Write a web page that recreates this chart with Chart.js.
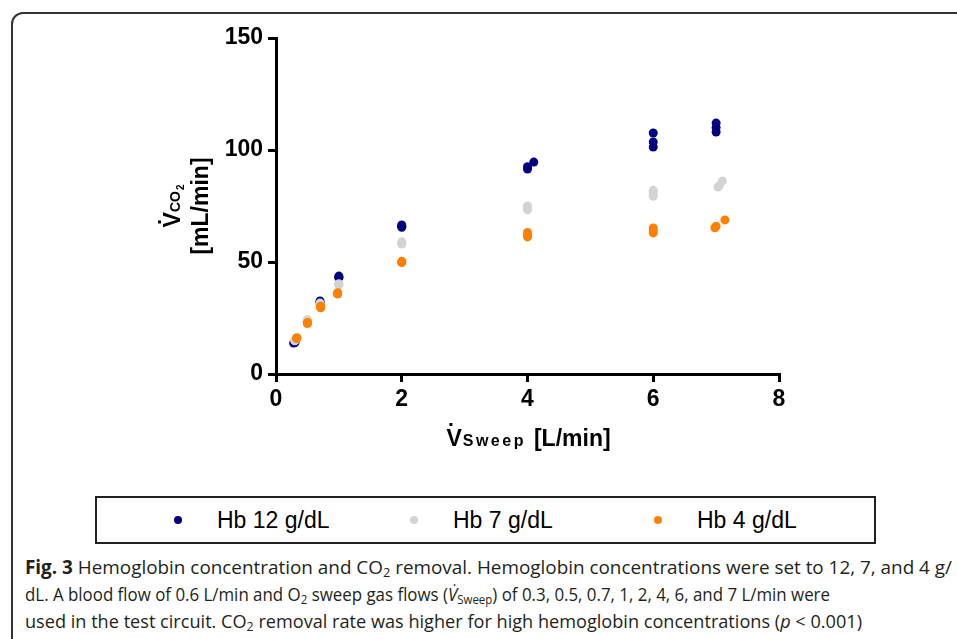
<!DOCTYPE html>
<html>
<head>
<meta charset="utf-8">
<script src="https://cdn.jsdelivr.net/npm/chart.js@4.4.1/dist/chart.umd.min.js"></script>
<style>
html,body{margin:0;padding:0;background:#fff}
body{width:957px;height:639px;position:relative;overflow:hidden;font-family:"Liberation Sans",Arial,sans-serif}
#frame{position:absolute;left:11px;top:12px;width:1000px;height:700px;border:2px solid #333;border-radius:12px}
#chart{position:absolute;left:0;top:0}
#legend{position:absolute;left:95px;top:496px;width:777px;height:44px;border:2px solid #222}
.item{position:absolute;top:0;height:44px;display:flex;align-items:center;font-size:23px;color:#000;white-space:nowrap}
.dot{width:8px;height:8px;border-radius:50%;margin-right:35px}
#caption{position:absolute;left:25px;top:554px;font-family:"Open Sans",sans-serif;font-size:19px;line-height:27px;color:#231f20;white-space:nowrap}
#caption sub{font-size:0.68em;vertical-align:-0.25em;line-height:0}
#caption div{transform-origin:0 0}
#caption span{display:inline-block}
</style>
</head>
<body>
<div id="frame"></div>
<canvas id="chart" width="957" height="470"></canvas>
<div id="legend"></div>
<div id="caption">
<div><span><b>Fig. 3</b> Hemoglobin concentration and CO<sub>2</sub> removal. Hemoglobin concentrations were set to 12, 7, and 4 g/</span></div>
<div><span>dL. A blood flow of 0.6 L/min and O<sub>2</sub> sweep gas flows (<i>V̇</i><sub>Sweep</sub>) of 0.3, 0.5, 0.7, 1, 2, 4, 6, and 7 L/min were</span></div>
<div><span>used in the test circuit. CO<sub>2</sub> removal rate was higher for high hemoglobin concentrations (<i>p</i> &lt; 0.001)</span></div>
</div>
<script>
// DATA

const seriesNames=["Hb 12 g/dL","Hb 7 g/dL","Hb 4 g/dL"]
const seriesColors=["#000080","#d3d3d3","#ff8000"]

const hb12X=[0.28,0.3,0.3, 0.5,0.5,0.5, 0.7,0.7,0.7, 1,1,1, 2,2,2, 4,4,4.1, 6,6,6, 7,7,7]
const hb12Y=[13.8,14,14.2, 23.5,23,23.6, 32.6,32,31.8, 43.7,43.2,43, 66.5,66,65.5, 92.5,91.5,94.6, 107.6,103.6,101.3, 112,110,108]

const hb7X=[0.3,0.3,0.3, 0.5,0.5,0.5, 0.7,0.7,0.7, 1,1,1, 2,2,2, 4,4,4, 6,6,6, 7.1,7.03,7.05]
const hb7Y=[15,15.2,14.8, 24.2,24,23.8, 31.7,31.3,31, 40.3,40,39.8, 59,58.5,58, 75,74,73.3, 82,80.5,79.3, 86.2,83.5,84]

const hb4X=[0.33,0.33,0.33, 0.5,0.5,0.5, 0.71,0.71,0.71, 0.98,0.98,0.98, 2,2,2, 4,4,4, 6,6,6, 7,6.98,7.14]
const hb4Y=[16,16.2,15.8, 22.8,22.5,23, 30,29.6,30.3, 36,35.7,36.3, 50.3,50,49.7, 63.2,62,61.2, 65.2,64,63, 66,65.3,68.8]

const xTicks={min:0,max:8,step:2}
const yTicks={min:0,max:150,step:50}

const seriesX=[hb12X,hb7X,hb4X]
const seriesY=[hb12Y,hb7Y,hb4Y]


// AXIS TITLES

const FONT='"Liberation Sans", Arial, sans-serif'

const axisTitles={
id:"axisTitles",
afterDraw(chart){

const ctx=chart.ctx
const a=chart.chartArea
ctx.save()
ctx.fillStyle="#000"
ctx.textBaseline="alphabetic"
ctx.textAlign="left"

// x title  V(dot) Sweep [L/min]
const xb=a.bottom+72
ctx.font="bold 23px "+FONT
const wV=ctx.measureText("V").width
const wL=ctx.measureText("[L/min]").width
ctx.font="bold 16px "+FONT
const sw="Sweep"
let wS=0
for(const c of sw) wS+=ctx.measureText(c).width+2.5
const gap=8
let x=(a.left+a.right)/2+1-(wV+1+wS+gap+wL)/2
ctx.font="bold 23px "+FONT
ctx.fillText("V",x,xb)
ctx.fillRect(x+3,xb-23,3,3)
x+=wV+1
ctx.font="bold 16px "+FONT
for(const c of sw){ctx.fillText(c,x,xb);x+=ctx.measureText(c).width+2.5}
x+=gap
ctx.font="bold 23px "+FONT
ctx.fillText("[L/min]",x,xb)

// y title
const cy=(a.top+a.bottom)/2
ctx.save()
ctx.translate(a.left-96,cy)
ctx.rotate(-Math.PI/2)
ctx.font="bold 23px "+FONT
const v=ctx.measureText("V").width
ctx.font="bold 14px "+FONT
const co=ctx.measureText("CO").width
ctx.font="bold 10px "+FONT
const two=ctx.measureText("2").width
let lx=-(v+co+two+1)/2
ctx.font="bold 23px "+FONT
ctx.fillText("V",lx,0)
ctx.fillRect(lx+4,-22,3,3)
lx+=v
ctx.font="bold 14px "+FONT
ctx.fillText("CO",lx,0)
lx+=co+1
ctx.font="bold 10px "+FONT
ctx.fillText("2",lx,4)
ctx.restore()

ctx.save()
ctx.translate(a.left-68,cy)
ctx.rotate(-Math.PI/2)
ctx.font="bold 23px "+FONT
ctx.textAlign="center"
ctx.fillText("[mL/min]",0,0)
ctx.restore()

ctx.restore()
}
}


// CHART

const datasets=seriesNames.map((name,k)=>({
label:name,
data:seriesX[k].map((x,i)=>({x:x,y:seriesY[k][i]})),
backgroundColor:seriesColors[k],
borderColor:seriesColors[k],
borderWidth:0,
pointRadius:4.5,
order:3-k
}))

const tickFont={family:FONT,size:23,weight:"bold"}

new Chart(document.getElementById("chart"),{
type:"scatter",
data:{datasets:datasets},
options:{
responsive:false,
animation:false,
layout:{padding:{left:0,right:178,top:38,bottom:0}},
plugins:{legend:{display:false},tooltip:{enabled:false}},
scales:{
x:{
type:"linear",min:xTicks.min,max:xTicks.max,
ticks:{stepSize:xTicks.step,color:"#000",font:tickFont,padding:4},
grid:{drawOnChartArea:false,drawTicks:true,tickLength:8,color:"#000",lineWidth:3},
border:{color:"#000",width:3},
afterFit:s=>{s.height=470-374}
},
y:{
type:"linear",min:yTicks.min,max:yTicks.max,
ticks:{stepSize:yTicks.step,color:"#000",font:tickFont,padding:5},
grid:{drawOnChartArea:false,drawTicks:true,tickLength:8,color:"#000",lineWidth:3},
border:{color:"#000",width:3},
afterFit:s=>{s.width=276}
}
}
},
plugins:[axisTitles]
})


// LEGEND

const legendDotX=[178,414,658]
const legend=document.getElementById("legend")
seriesNames.forEach((name,k)=>{
const item=document.createElement("div")
item.className="item"
item.style.left=(legendDotX[k]-95-2-4)+"px"
const dot=document.createElement("div")
dot.className="dot"
dot.style.background=seriesColors[k]
item.appendChild(dot)
item.appendChild(document.createTextNode(name))
legend.appendChild(item)
})


// CAPTION WIDTH (condensed face of the original)

const lineWidths=[927,805,837]
document.querySelectorAll("#caption div").forEach((d,i)=>{
const w=d.firstElementChild.getBoundingClientRect().width
d.style.transform="scaleX("+(lineWidths[i]/w)+")"
})
</script>
</body>
</html>
